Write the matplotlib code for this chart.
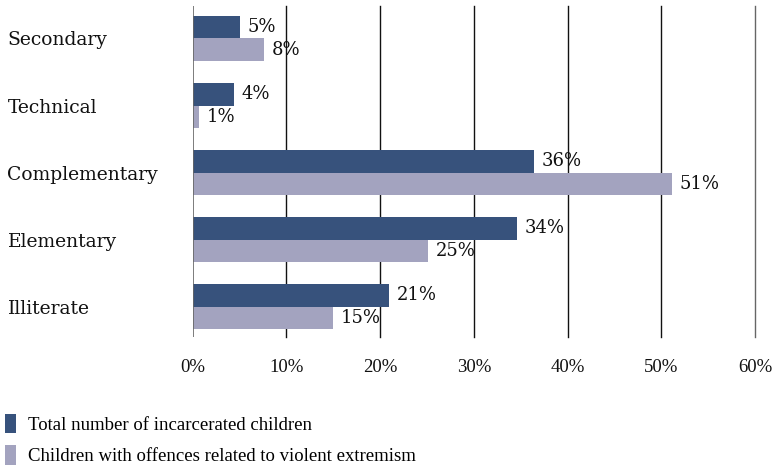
import matplotlib
matplotlib.use("Agg")
import matplotlib.pyplot as plt
import numpy as np

categories = ["Secondary", "Technical", "Complementary", "Elementary", "Illiterate"]
total_vals = [5.1, 4.4, 36.4, 34.6, 21.0]
extremism_vals = [7.6, 0.7, 51.1, 25.1, 15.0]
total_labels = ["5%", "4%", "36%", "34%", "21%"]
extremism_labels = ["8%", "1%", "51%", "25%", "15%"]
xticks = [0, 10, 20, 30, 40, 50, 60]
xtick_labels = ["0%", "10%", "20%", "30%", "40%", "50%", "60%"]
series_names = ["Total number of incarcerated children",
                "Children with offences related to violent extremism"]

dark = "#37527c"
light = "#a3a3bf"
txt = "#111111"

fig = plt.figure(figsize=(7.76, 4.70), dpi=100)
ax = fig.add_axes([192.5/776, 1-337/470, (755-192.5)/776, 331/470])

y = np.arange(len(categories))
h = 0.336
b1 = ax.barh(y - h/2, total_vals, height=h, color=dark, zorder=3, label=series_names[0])
b2 = ax.barh(y + h/2, extremism_vals, height=h, color=light, zorder=3, label=series_names[1])

for yi, v, lab in zip(y, total_vals, total_labels):
    ax.annotate(lab, (v, yi - h/2), xytext=(5.5, 0), textcoords="offset points",
                va="center", ha="left", fontsize=13, family="DejaVu Serif", color=txt, zorder=4)
for yi, v, lab in zip(y, extremism_vals, extremism_labels):
    ax.annotate(lab, (v, yi + h/2), xytext=(5.5, 0), textcoords="offset points",
                va="center", ha="left", fontsize=13, family="DejaVu Serif", color=txt, zorder=4)

ax.set_xlim(0, 60)
ax.set_ylim(4.455, -0.485)
ax.set_xticks(xticks)
ax.set_xticklabels(xtick_labels, family="Liberation Serif", fontsize=13.5, color=txt)
ax.set_yticks(y)
ax.set_yticklabels(categories, family="DejaVu Serif", fontsize=13.5, color=txt)
ax.tick_params(axis="both", length=0)
ax.tick_params(axis="x", pad=16)
ax.tick_params(axis="y", pad=0)
for lab in ax.get_yticklabels():
    lab.set_horizontalalignment("left")
    lab.set_x(-185/562.5)

ax.xaxis.grid(False)
for xv in xticks[1:]:
    ax.axvline(xv, color="#111111" if xv < 60 else "#666666", linewidth=1.0, zorder=0, clip_on=False)
ax.axvline(0, color="#666666", linewidth=1.2, zorder=4)
for s in ax.spines.values():
    s.set_visible(False)

fig.legend(handles=[b1, b2], labels=series_names, loc="lower left",
           bbox_to_anchor=(0.0, 0.0), frameon=False,
           prop={"family": "Liberation Serif", "size": 13.5},
           handlelength=0.62, handleheight=1.2, handletextpad=0.6, labelspacing=0.6,
           borderaxespad=0.0, borderpad=0.25)

fig.savefig("out.png", dpi=100)
